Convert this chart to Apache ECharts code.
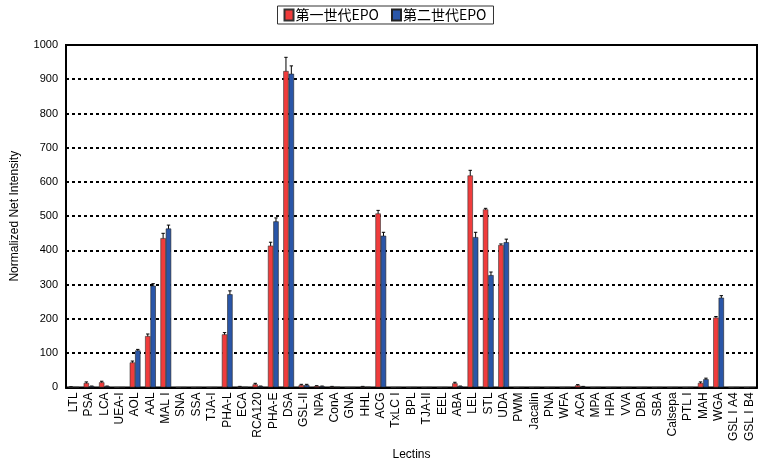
<!DOCTYPE html>
<html>
<head>
<meta charset="utf-8">
<script src="https://cdn.jsdelivr.net/npm/echarts@6/dist/echarts.min.js"></script>
<style>
html,body{margin:0;padding:0;background:#fff;}
#main{width:770px;height:466px;}
</style>
</head>
<body>
<div id="main"></div>
<script>
// レクチン名
var lectins = ['LTL','PSA','LCA','UEA-I','AOL','AAL','MAL I','SNA','SSA','TJA-I','PHA-L','ECA','RCA120','PHA-E','DSA','GSL-II','NPA','ConA','GNA','HHL','ACG','TxLC I','BPL','TJA-II','EEL','ABA','LEL','STL','UDA','PWM','Jacalin','PNA','WFA','ACA','MPA','HPA','VVA','DBA','SBA','Calsepa','PTL I','MAH','WGA','GSL I A4','GSL I B4'];
// 第一世代EPO
var gen1 = [1,13,15,0,73,150,436,0,0,0,155,2,9,414,924,7,4,2,0,2,508,0,0,0,0,12,619,520,416,0,0,0,0,6,0,0,0,0,0,0,0,13,204,0,0];
var gen1Err = [1,3,3,0,4,6,14,0,0,0,5,1,3,10,40,2,1,1,0,1,9,0,0,0,0,3,15,3,3,0,0,0,0,2,0,0,0,0,0,0,0,3,3,0,0];
// 第二世代EPO
var gen2 = [0.5,3,3,0,108,297,464,0,0,0,272,1,3,485,916,7,3,1,0,1,443,0,0,0,0,3,439,328,424,0,0,0,0,2,0,0,0,0,0,0,0,24,262,0,0];
var gen2Err = [0,1,1,0,3,6,10,0,0,0,10,0,1,10,23,2,1,0,0,0,10,0,0,0,0,1,14,9,9,0,0,0,0,1,0,0,0,0,0,0,0,3,6,0,0];
var yTicks = [0,100,200,300,400,500,600,700,800,900,1000];

var RED = '#f03c3c', BLUE = '#2a56a8';

function errData(vals, errs){
    var out = [];
    for (var i = 0; i < vals.length; i++) {
        out.push([i, vals[i], errs[i]]);
    }
    return out;
}

//误差线
function errRender(side){
    return function(params, api){
        var e = api.value(2);
        if (!e) return null;
        var x = api.value(0), v = api.value(1);
        var band = api.size([1, 0])[0];
        var top = api.coord([x, v + e]);
        var low = api.coord([x, Math.max(v - e, 0)]);
        var cx = top[0] + side * band * 0.175;
        var hw = band * 0.11;
        var st = {stroke: '#000', lineWidth: 1};
        return {
            type: 'group',
            children: [
                {type: 'line', shape: {x1: cx, y1: top[1], x2: cx, y2: low[1]}, style: st},
                {type: 'line', shape: {x1: cx - hw, y1: top[1], x2: cx + hw, y2: top[1]}, style: st}
            ]
        };
    };
}

var chart = echarts.init(document.getElementById('main'));
var font = 'Liberation Sans, Arial, sans-serif';
chart.setOption({
    animation: false,
    textStyle: {fontFamily: font},
    legend: {
        data: ['第一世代EPO', '第二世代EPO'],
        top: 6,
        left: 'center',
        icon: 'rect',
        itemWidth: 9,
        itemHeight: 11,
        itemGap: 12,
        padding: [2, 7, 2, 6],
        borderColor: '#333',
        borderWidth: 1,
        textStyle: {fontFamily: 'Noto Sans CJK JP', fontSize: 14, color: '#000', padding: [0, 0, 0, -3]}
    },
    grid: {
        left: 66, right: 13, top: 45, bottom: 77,
        show: true,
        borderColor: '#000',
        borderWidth: 2,
        containLabel: false
    },
    xAxis: {
        type: 'category',
        data: lectins,
        name: 'Lectins',
        nameLocation: 'middle',
        nameGap: 60,
        nameTextStyle: {fontSize: 12, color: '#000'},
        axisLine: {lineStyle: {color: '#000', width: 2}},
        axisTick: {inside: true, length: 4, lineStyle: {color: '#000'}},
        axisLabel: {interval: 0, rotate: 90, fontSize: 12, color: '#000', margin: 5}
    },
    yAxis: {
        type: 'value',
        min: yTicks[0],
        max: yTicks[yTicks.length - 1],
        interval: 100,
        name: 'Normalized Net Intensity',
        nameLocation: 'middle',
        nameGap: 45,
        nameTextStyle: {fontSize: 12, color: '#000'},
        axisLine: {show: true, lineStyle: {color: '#000', width: 2}},
        axisTick: {show: false},
        axisLabel: {fontSize: 11, color: '#000', margin: 8, formatter: function(v){ return String(v); }},
        splitLine: {show: true, lineStyle: {color: '#000', width: 2, type: [3, 3]}}
    },
    series: [
        {
            name: '第一世代EPO', type: 'bar', data: gen1, z: 3,
            barGap: '0%', barCategoryGap: '30%',
            itemStyle: {color: RED, borderColor: '#333', borderWidth: 0.6}
        },
        {
            name: '第二世代EPO', type: 'bar', data: gen2, z: 3,
            barGap: '0%', barCategoryGap: '30%',
            itemStyle: {color: BLUE, borderColor: '#222', borderWidth: 0.6}
        },
        {
            name: 'err1', type: 'custom', z: 2, silent: true,
            renderItem: errRender(-1), data: errData(gen1, gen1Err)
        },
        {
            name: 'err2', type: 'custom', z: 2, silent: true,
            renderItem: errRender(1), data: errData(gen2, gen2Err)
        }
    ]
});
</script>
</body>
</html>
